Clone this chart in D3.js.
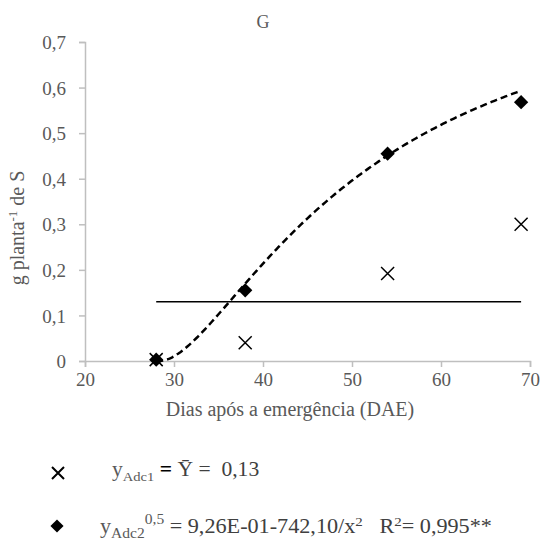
<!DOCTYPE html>
<html>
<head>
<meta charset="utf-8">
<script src="https://cdn.jsdelivr.net/npm/d3@7"></script>
<style>
  html, body { margin: 0; padding: 0; background: #fff; }
  svg text { font-family: "Liberation Serif", "Times New Roman", Times, "DejaVu Serif", serif !important; white-space: pre; }
</style>
</head>
<body>
<svg id="chart" width="546" height="544"></svg>
<script>
// Days after emergence
const days = [28, 38, 54, 69];
// Adc1 observations (g planta-1 de S)
const adc1 = [0.003, 0.040, 0.192, 0.300];
// Adc2 observations
const adc2 = [0.003, 0.155, 0.455, 0.568];
// Adc1 mean
const adc1Mean = 0.13;
// Adc2 fitted model coefficients: y^0.5 = a - b / x^2
const fitA = 0.926, fitB = 742.10;

const xTicks = [20, 30, 40, 50, 60, 70];
const yTicks = [0, 0.1, 0.2, 0.3, 0.4, 0.5, 0.6, 0.7];

const svg = d3.select("#chart");
const axisGrey = "#bfbfbf";
const textGrey = "#595959";

const x = d3.scaleLinear().domain([20, 70]).range([85, 530]);
const y = d3.scaleLinear().domain([0, 0.7]).range([361, 42]);

const fmt = v => v === 0 ? "0" : d3.format(".1f")(v).replace(".", ",");

// Axes
const xAxis = svg.append("g").attr("transform", `translate(0,${y(0)})`)
  .call(d3.axisBottom(x).tickValues(xTicks).tickSize(6).tickPadding(6).tickFormat(d => d));
const yAxis = svg.append("g").attr("transform", `translate(${x(20)},0)`)
  .call(d3.axisLeft(y).tickValues(yTicks).tickSize(6).tickPadding(13).tickFormat(fmt));
[xAxis, yAxis].forEach(g => {
  g.attr("font-family", null).attr("font-size", null);
  g.selectAll("path.domain").attr("stroke", axisGrey).attr("stroke-width", 1.5);
  g.selectAll(".tick line").attr("stroke", axisGrey).attr("stroke-width", 1.5);
  g.selectAll(".tick text").attr("fill", textGrey).style("font-size", "19px");
});
yAxis.selectAll(".tick text").attr("dy", "0.35em");

// Title
svg.append("text").attr("x", 263).attr("y", 28).attr("text-anchor", "middle")
  .attr("fill", textGrey).style("font-size", "18px").text("G");

// Axis titles
svg.append("text").attr("x", 290).attr("y", 416).attr("text-anchor", "middle")
  .attr("fill", textGrey).style("font-size", "20px").text("Dias após a emergência (DAE)");

const yl = svg.append("text").attr("transform", "translate(24,228) rotate(-90)")
  .attr("text-anchor", "middle").attr("fill", textGrey).style("font-size", "20px");
yl.append("tspan").text("g planta");
yl.append("tspan").attr("dy", -7).style("font-size", "13px").text("-1");
yl.append("tspan").attr("dy", 7).text(" de S");

// Adc1 mean line
svg.append("line")
  .attr("x1", x(days[0])).attr("x2", x(days[days.length - 1]))
  .attr("y1", y(adc1Mean)).attr("y2", y(adc1Mean))
  .attr("stroke", "#000").attr("stroke-width", 1.5);

// Adc2 fitted curve
const fitted = d3.range(days[0], days[days.length - 1] + 0.01, 0.25).map(d => {
  const r = fitA - fitB / (d * d);
  return [d, r * r];
});
svg.append("path").datum(fitted)
  .attr("d", d3.line().x(d => x(d[0])).y(d => y(d[1])))
  .attr("fill", "none").attr("stroke", "#000").attr("stroke-width", 2.5)
  .attr("stroke-dasharray", "7,4");

// Markers
const crossPath = s => `M${-s},${-s}L${s},${s}M${-s},${s}L${s},${-s}`;
const diamond = d3.symbol().type(d3.symbolDiamond2).size(130);

svg.append("g").selectAll("path").data(days.map((d, i) => [d, adc1[i]]))
  .join("path")
  .attr("transform", d => `translate(${x(d[0])},${y(d[1])})`)
  .attr("d", crossPath(6.5)).attr("stroke", "#000").attr("stroke-width", 1.5).attr("fill", "none");

svg.append("g").selectAll("path").data(days.map((d, i) => [d, adc2[i]]))
  .join("path")
  .attr("transform", d => `translate(${x(d[0])},${y(d[1])})`)
  .attr("d", diamond).attr("fill", "#000");

// Legend
svg.append("path").attr("transform", "translate(58,473)")
  .attr("d", crossPath(6)).attr("stroke", "#000").attr("stroke-width", 2).attr("fill", "none");
svg.append("path").attr("transform", "translate(57,526)")
  .attr("d", d3.symbol().type(d3.symbolDiamond2).size(110)).attr("fill", "#000");

const l1 = svg.append("text").attr("transform", "translate(112,476) scale(1.08,1)")
  .attr("fill", "#404040").style("font-size", "20px");
l1.append("tspan").attr("fill", textGrey).text("y");
l1.append("tspan").attr("dy", 5).attr("fill", textGrey).style("font-size", "13.5px").text("Adc1");
l1.append("tspan").attr("dy", -5).attr("fill", "#000").style("font-weight", "bold").text(" = ");
l1.append("tspan").text("Ȳ =  0,13");

const l2 = svg.append("text").attr("transform", "translate(100,533) scale(1.11,1)")
  .attr("fill", "#404040").style("font-size", "20px");
l2.append("tspan").attr("fill", textGrey).text("y");
l2.append("tspan").attr("dy", 5).attr("fill", textGrey).style("font-size", "14px").text("Adc2");
l2.append("tspan").attr("dy", -14).attr("fill", textGrey).style("font-size", "14px").text("0,5");
l2.append("tspan").attr("dy", 9).text(" = 9,26E-01-742,10/x");
l2.append("tspan").attr("dy", -7).style("font-size", "13.5px").text("2");
l2.append("tspan").attr("dy", 7).text("   R");
l2.append("tspan").attr("dy", -7).style("font-size", "13.5px").text("2");
l2.append("tspan").attr("dy", 7).text("= 0,995**");
</script>
</body>
</html>
